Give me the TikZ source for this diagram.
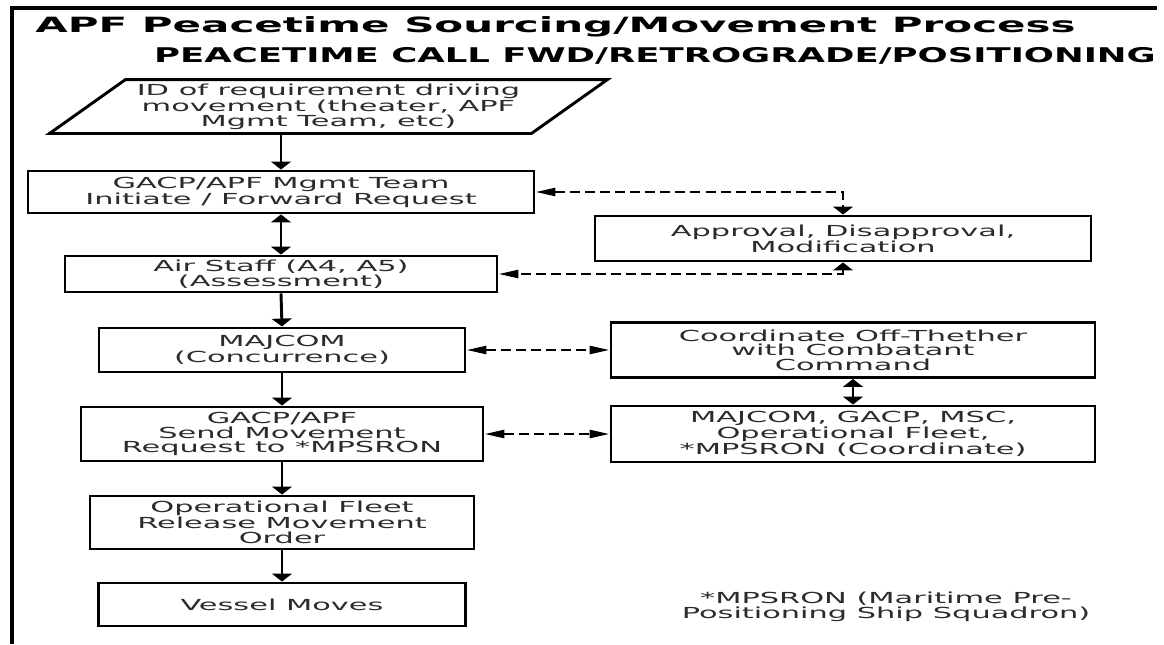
\documentclass[tikz,border=0pt]{standalone}
\usepackage{fontspec}
\setmainfont{DejaVu Sans}[FakeStretch=2.0]
\newfontfamily\titleBfont{DejaVu Sans}[FakeStretch=1.75]
\usetikzlibrary{arrows.meta}
\definecolor{txt}{HTML}{2B2B2B}
\begin{document}
\begin{tikzpicture}[x=0.75pt,y=-0.75pt,
  box/.style={draw, line width=2.2pt, inner sep=0pt, align=center, text=txt,
    font=\fontsize{11.4}{10.9}\selectfont},
  vtip/.tip={Triangle[width=15pt,length=6pt]},
  htip/.tip={Triangle[width=6pt,length=15pt]},
  varr/.style={line width=2.2pt, -vtip},
  vdarr/.style={line width=2.2pt, vtip-vtip},
  hdash/.style={line width=1.9pt, dash pattern=on 7.5pt off 3.8pt, htip-htip},
  eldash/.style={line width=1.9pt, dash pattern=on 7.5pt off 3.8pt, htip-vtip},
  eldashb/.style={line width=1.9pt, dash pattern=on 7.5pt off 3.8pt, vtip-htip},
  titleA/.style={font=\bfseries\fontsize{15.75}{16}\selectfont, inner sep=0pt},
  titleB/.style={font=\titleBfont\bfseries\fontsize{15.2}{16}\selectfont, inner sep=0pt},
  note/.style={align=center, inner sep=0pt, text=txt, font=\fontsize{11.4}{9.4}\selectfont}]
\useasboundingbox[fill=white] (0,0) rectangle (1164,644);

% frame
\draw[line width=2.4pt] (12,644) -- (12,8) -- (1157,8);

% titles
\node[titleA, anchor=base] (t1) at (555.5,32) {APF Peacetime Sourcing/Movement Process};
\node[titleB, anchor=base] (t2) at (655,62) {PEACETIME CALL FWD/RETROGRADE/POSITIONING};

% parallelogram
\node[box, draw=none, minimum width=359.25pt, minimum height=38.25pt,
  font=\fontsize{11.4}{10}\selectfont] (id) at (328.5,106.5)
  {ID of requirement driving\\movement (theater, APF\\Mgmt Team, etc)};
\draw[line width=2.2pt, line join=miter]
  ([xshift=-28.5pt]id.south west) -- ([xshift=28.5pt]id.north west) --
  ([xshift=28.5pt]id.north east) -- ([xshift=-28.5pt]id.south east) -- cycle;

% main column
\node[box, minimum width=379.5pt, minimum height=31.5pt] (b1) at (281,192)
  {GACP/APF Mgmt Team\\Initiate / Forward Request};
\node[box, minimum width=324pt, minimum height=27pt] (b2) at (281,274)
  {Air Staff (A4, A5)\\(Assessment)};
\node[box, minimum width=274.5pt, minimum height=33pt] (b3) at (282,350)
  {MAJCOM\\(Concurrence)};
\node[box, minimum width=301.5pt, minimum height=40.5pt] (b4) at (282,434)
  {GACP/APF\\Send Movement\\Request to *MPSRON};
\node[box, minimum width=288pt, minimum height=39.75pt] (b5) at (282,522.5)
  {Operational Fleet\\Release Movement\\Order};
\node[box, minimum width=275.25pt, minimum height=32.25pt] (b6) at (282,604.5)
  {Vessel Moves};

% right column
\node[box, minimum width=372pt, minimum height=33.75pt] (ap) at (843,238.5)
  {Approval, Disapproval,\\Modification};
\node[box, minimum width=363pt, minimum height=41.25pt] (cc) at (853,350)
  {Coordinate Off-Thether\\with Combatant\\Command};
\node[box, minimum width=363pt, minimum height=42pt] (md) at (853,434)
  {MAJCOM, GACP, MSC,\\Operational Fleet,\\*MPSRON (Coordinate)};

% footnote
\node[note] (fn) at (886,607) {*MPSRON (Maritime Pre-\\Positioning Ship Squadron)};

% connectors
\draw[varr] (id.south -| b1.north) -- (b1.north);
\draw[vdarr] (b1.south) -- (b2.north);
\draw[varr] (b2.south) -- (b3.north);
\draw[varr] (b3.south) -- (b4.north);
\draw[varr] (b4.south) -- (b5.north);
\draw[varr] (b5.south) -- (b6.north);

\draw[eldash] (b1.east) -- (b1.east -| ap.north) -- (ap.north);
\draw[eldashb] (ap.south) -- (ap.south |- b2.east) -- (b2.east);
\draw[hdash] (b3.east) -- (cc.west);
\draw[hdash] (b4.east) -- (md.west);
\draw[vdarr] (cc.south) -- (md.north);
\end{tikzpicture}
\end{document}
